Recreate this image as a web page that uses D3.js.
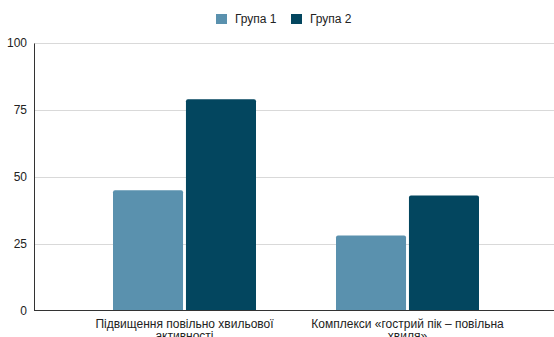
<!DOCTYPE html>
<html>
<head>
<meta charset="utf-8">
<script src="https://cdn.jsdelivr.net/npm/d3@7"></script>
<style>
  html, body { margin: 0; padding: 0; background: #fff; }
  svg { display: block; font-family: "Liberation Sans", Arial, sans-serif; }
</style>
</head>
<body>
<svg id="chart" width="554" height="337"></svg>
<script>
// Chart data
const categories = [
  "Підвищення повільно хвильової активності",
  "Комплекси «гострий пік – повільна хвиля»"
];
const seriesNames = ["Група 1", "Група 2"];
const group1 = [45, 28];
const group2 = [79, 43];
const yTicks = [0, 25, 50, 75, 100];

const colors = ["#5a91ae", "#03465f"];
const values = [group1, group2];
const FONT = "'Liberation Sans', Arial, sans-serif";

const svg = d3.select("#chart");
const plot = { left: 34, right: 554, top: 43, bottom: 310.5 };

const y = d3.scaleLinear().domain([0, 100]).range([plot.bottom, plot.top]);
const x0 = d3.scaleBand().domain(categories).range([73, 519]).padding(0);
const x1 = d3.scaleBand().domain(seriesNames)
  .range([40, x0.bandwidth() - 40]).paddingInner(0.04);

// Gridlines
svg.append("g")
  .selectAll("line")
  .data(yTicks.filter(d => d > 0))
  .join("line")
  .attr("x1", plot.left).attr("x2", plot.right)
  .attr("y1", d => Math.round(y(d)) + 0.5).attr("y2", d => Math.round(y(d)) + 0.5)
  .attr("stroke", "#d9d9d9").attr("stroke-width", 1);

// Y axis
const yAxis = d3.axisLeft(y).tickValues(yTicks).tickSize(0).tickPadding(7);
const yg = svg.append("g").attr("transform", `translate(${plot.left},0)`).call(yAxis);
yg.select(".domain").attr("stroke", "#333").attr("stroke-width", 1);
yg.selectAll("text").attr("font-size", 12).attr("fill", "#222")
  .attr("font-family", FONT);

// Bars with slightly rounded top corners
const groups = svg.append("g").selectAll("g")
  .data(categories)
  .join("g")
  .attr("transform", d => `translate(${x0(d)},0)`);

groups.selectAll("path")
  .data((c, i) => seriesNames.map((s, k) => ({ s, v: values[k][i], k })))
  .join("path")
  .attr("fill", d => colors[d.k])
  .attr("d", d => {
    const bx = x1(d.s), bw = x1.bandwidth();
    const top = y(d.v), bot = y(0), r = 2;
    return `M${bx},${bot}V${top + r}Q${bx},${top} ${bx + r},${top}H${bx + bw - r}Q${bx + bw},${top} ${bx + bw},${top + r}V${bot}Z`;
  });

// X axis baseline
svg.append("line")
  .attr("x1", plot.left).attr("x2", plot.right)
  .attr("y1", plot.bottom).attr("y2", plot.bottom)
  .attr("stroke", "#333").attr("stroke-width", 1);

// Category labels (wrapped)
const wrapWidth = 200;
svg.append("g").selectAll("text")
  .data(categories)
  .join("text")
  .attr("text-anchor", "middle")
  .attr("font-size", 12)
  .attr("fill", "#222")
  .each(function(d) {
    const t = d3.select(this);
    const cx = x0(d) + x0.bandwidth() / 2;
    const words = d.split(" ");
    let lines = [], cur = [];
    const measure = t.append("tspan");
    words.forEach(w => {
      cur.push(w);
      measure.text(cur.join(" "));
      if (measure.node().getComputedTextLength() > wrapWidth && cur.length > 1) {
        cur.pop();
        lines.push(cur.join(" "));
        cur = [w];
      }
    });
    lines.push(cur.join(" "));
    measure.remove();
    lines.forEach((l, i) => {
      t.append("tspan").attr("x", cx).attr("y", 327.5 + i * 12.5).text(l);
    });
  });

// Legend
const legend = svg.append("g");
const legendX = [216, 291];
seriesNames.forEach((s, i) => {
  legend.append("rect")
    .attr("x", legendX[i]).attr("y", 14).attr("width", 11).attr("height", 10)
    .attr("fill", colors[i]);
  legend.append("text")
    .attr("x", legendX[i] + 19).attr("y", 23)
    .attr("font-size", 12).attr("fill", "#222")
    .text(s);
});
</script>
</body>
</html>
